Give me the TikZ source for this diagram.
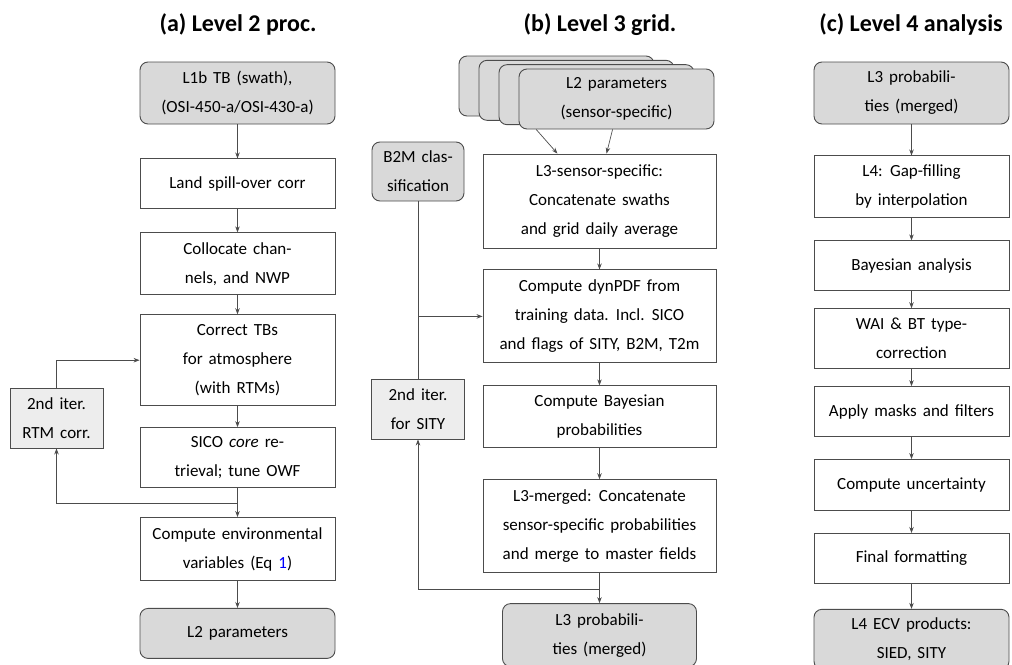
\documentclass[tikz,border=0pt]{standalone}
\usepackage{fontspec}
\setmainfont{Carlito}
\usetikzlibrary{arrows.meta,calc,positioning}

\definecolor{boxgray}{gray}{0.85}
\definecolor{itergray}{gray}{0.93}
\definecolor{edgegray}{gray}{0.3}

\newcommand\widespaces{\spaceskip=6pt\relax}

\tikzset{
  box/.style={draw=edgegray, fill=white, line width=0.9pt, minimum width=195pt,
    minimum height=#1, align=center, inner sep=0pt,
    font=\fontsize{17}{29}\selectfont\widespaces},
  data/.style={box=#1, fill=boxgray, rounded corners=8pt},
  iter/.style={box=#1, fill=itergray, minimum width=93pt},
  title/.style={anchor=base, font=\fontsize{24}{26}\selectfont\bfseries},
  wire/.style={draw=edgegray, line width=0.7pt},
  link/.style={wire, ->}
}

\begin{document}
\begin{tikzpicture}[x=1pt,y=-1pt,>={Stealth[length=6pt,width=4.5pt]}]
  \useasboundingbox (0,0) rectangle (1012,664);

  % titles
  \node[title] (titlea) at (238,31) {(a) Level 2 proc.};
  \node[title] (titleb) at (600,31) {(b) Level 3 grid.};
  \node[title] (titlec) at (911,31) {(c) Level 4 analysis};

  % (a) level 2
  \node[data=62pt]                    (lonebtb) at (237.5,93) {L1b TB (swath),\\(OSI-450-a/OSI-430-a)};
  \node[box=50pt, below=34pt of lonebtb] (spill)  {Land spill-over corr};
  \node[box=62pt, below=23pt of spill]   (colloc) {Collocate chan-\\nels, and NWP};
  \node[box=91pt, below=19pt of colloc]  (atmcorr) {Correct TBs\\for atmosphere\\(with RTMs)};
  \node[box=60pt, below=21pt of atmcorr] (sico)   {SICO \textit{core} re-\\trieval; tune OWF};
  \node[box=63pt, below=29pt of sico]    (envvar) {Compute environmental\\variables (Eq \textcolor{blue}{1})};
  \node[data=50pt, below=27pt of envvar] (ltwo)   {L2 parameters};
  \node[iter=60pt] (rtmiter) at (56.5,418) {2nd iter.\\RTM corr.};
  \coordinate[below=15pt of sico] (sicofork);

  \foreach \from/\to in {lonebtb/spill, spill/colloc, colloc/atmcorr, atmcorr/sico, sico/envvar, envvar/ltwo}
    \draw[link] (\from) -- (\to);
  \draw[link] (rtmiter.north) |- (atmcorr.west);
  \draw[link] (sicofork) -| (rtmiter.south);

  % (b) level 3
  \foreach \k in {0,1,2}
    \node[data=60pt] (stack\k) at ({556.5+20*\k},{86+4.33*\k}) {};
  \node[data=60pt] (ltwostack) at (616.5,99) {L2 parameters\\(sensor-specific)};
  \node[box=94pt, minimum width=233pt] (lthrees) at (599.5,201) {L3-sensor-specific:\\Concatenate swaths\\and grid daily average};
  \node[box=93pt, minimum width=233pt, below=21pt of lthrees] (dynpdf) {Compute dynPDF from\\training data. Incl. SICO\\and flags of SITY, B2M, T2m};
  \node[box=62pt, minimum width=233pt, below=22pt of dynpdf] (bayesprob) {Compute Bayesian\\probabilities};
  \node[box=93pt, minimum width=233pt, below=31pt of bayesprob] (merged) {L3-merged: Concatenate\\sensor-specific probabilities\\and merge to master fields};
  \node[data=63pt, minimum width=194pt, below=30pt of merged] (lthreeb) {L3 probabili-\\ties (merged)};
  \node[data=59pt, minimum width=92pt] (btwom) at (418,171.5) {B2M clas-\\sification};
  \node[iter=60pt] (sityiter) at (418,409) {2nd iter.\\for SITY};
  \coordinate[below=16pt of merged] (mergefork);

  \draw[link] ($(ltwostack.south west)!0.09!(ltwostack.south east)$) -- ($(lthrees.north west)!0.32!(lthrees.north east)$);
  \draw[link] ($(ltwostack.south west)!0.48!(ltwostack.south east)$) -- ($(lthrees.north west)!0.53!(lthrees.north east)$);
  \foreach \from/\to in {lthrees/dynpdf, dynpdf/bayesprob, bayesprob/merged, merged/lthreeb}
    \draw[link] (\from) -- (\to);
  \draw[wire] (btwom) -- (sityiter);
  \draw[link] (btwom.south |- dynpdf) -- (dynpdf);
  \draw[link] (mergefork) -| (sityiter.south);

  % (c) level 4
  \node[data=62pt] (lthreec) at (911.5,93) {L3 probabili-\\ties (merged)};
  \node[box=62pt, below=31pt of lthreec]  (gapfill)  {L4: Gap-filling\\by interpolation};
  \node[box=50pt, below=22pt of gapfill]  (bayana)   {Bayesian analysis};
  \node[box=60pt, below=17pt of bayana]   (typecorr) {WAI \& BT type-\\correction};
  \node[box=50pt, below=17pt of typecorr] (masks)    {Apply masks and filters};
  \node[box=51pt, below=22pt of masks]    (uncert)   {Compute uncertainty};
  \node[box=50pt, below=22pt of uncert]   (final)    {Final formatting};
  \node[data=60pt, below=25pt of final]   (ecv)      {L4 ECV products:\\SIED, SITY};

  \foreach \from/\to in {lthreec/gapfill, gapfill/bayana, bayana/typecorr, typecorr/masks, masks/uncert, uncert/final, final/ecv}
    \draw[link] (\from) -- (\to);
\end{tikzpicture}
\end{document}
